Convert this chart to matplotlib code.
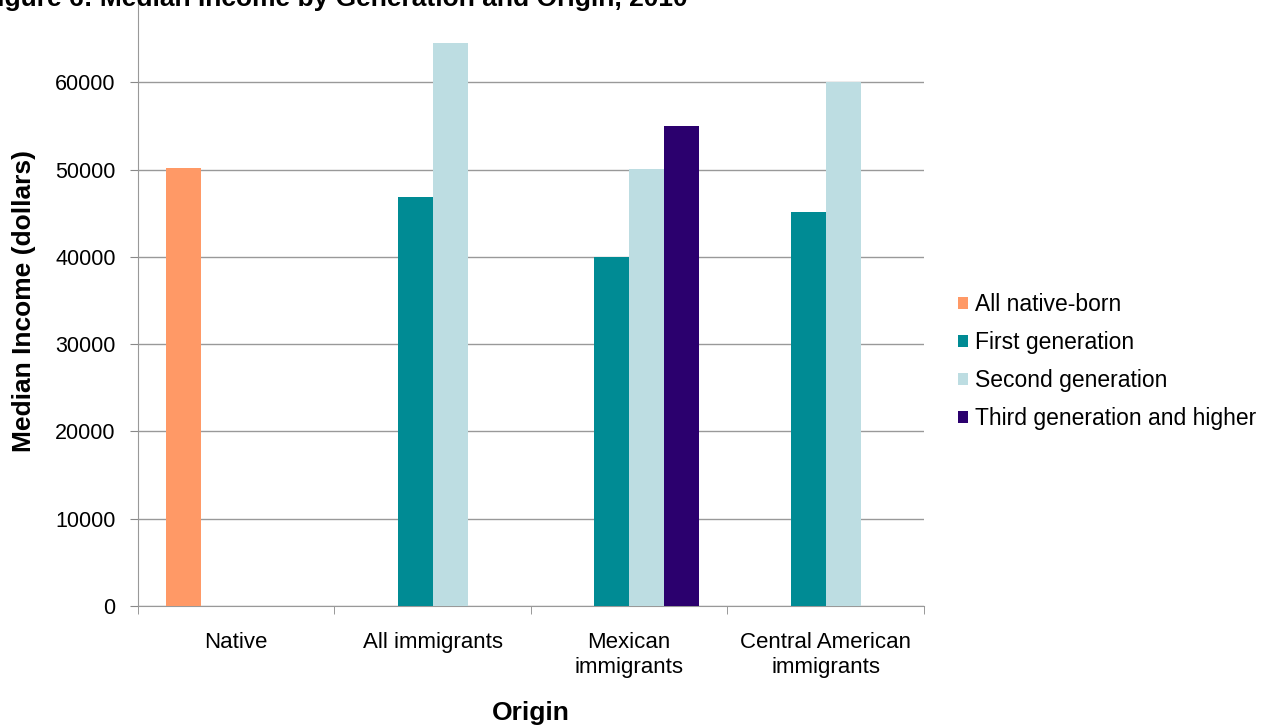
import matplotlib
matplotlib.use("Agg")
import matplotlib.pyplot as plt
import numpy as np

plt.rcParams['font.family'] = ['Liberation Sans', 'DejaVu Sans']

origins = ["Native", "All immigrants", "Mexican\nimmigrants", "Central American\nimmigrants"]
series_names = ["All native-born", "First generation", "Second generation", "Third generation and higher"]
native_born = [50200, np.nan, np.nan, np.nan]
first_gen = [np.nan, 46850, 40000, 45100]
second_gen = [np.nan, 64500, 50100, 60000]
third_gen = [np.nan, np.nan, 55000, np.nan]
colors = ["#FF9966", "#008B94", "#BDDDE2", "#2B006E"]

fig = plt.figure(figsize=(12.69, 7.27), dpi=100)
ax = fig.add_axes([0.1087, 0.1664, 0.6194, 0.8405])

x = np.arange(len(origins))
width = 0.178
all_series = [native_born, first_gen, second_gen, third_gen]
for i, (vals, name, c) in enumerate(zip(all_series, series_names, colors)):
    ax.bar(x + (i - 1.5) * width, vals, width, color=c, label=name, zorder=3)

ax.set_xlim(-0.5, len(origins) - 0.5)
ax.set_ylim(0, 70000)
# the 70000 line sits above the top edge of the image, so no label for it
ax.set_yticks(range(0, 60001, 10000))
ax.tick_params(axis='y', labelsize=15.5, length=6, color='#888888', direction='out', pad=10)
ax.set_xticks(x)
ax.set_xticklabels(origins, fontsize=16)
ax.tick_params(axis='x', length=0, pad=19)
ax.set_xticks(np.arange(-0.5, len(origins)), minor=True)
ax.tick_params(axis='x', which='minor', length=6, color='#888888')
ax.grid(axis='y', color='#999999', linewidth=1, zorder=0)
for s in ['top', 'right']:
    ax.spines[s].set_visible(False)
for s in ['left', 'bottom']:
    ax.spines[s].set_color('#999999')

ax.set_ylabel("Median Income (dollars)", fontsize=19, fontweight='bold', labelpad=14)
ax.set_xlabel("Origin", fontsize=19, fontweight='bold', labelpad=17)

leg = ax.legend(loc='center left', bbox_to_anchor=(1.043, 0.40), frameon=False,
                fontsize=16.5, handlelength=0.45, handleheight=0.45, handletextpad=0.3,
                labelspacing=0.65, borderpad=0, borderaxespad=0)

fig.text(-0.015, 1 - 6 / 727, "Figure 6: Median Income by Generation and Origin, 2010",
         fontsize=19, fontweight='bold', ha='left', va='baseline')

fig.savefig("out.png", dpi=100)
